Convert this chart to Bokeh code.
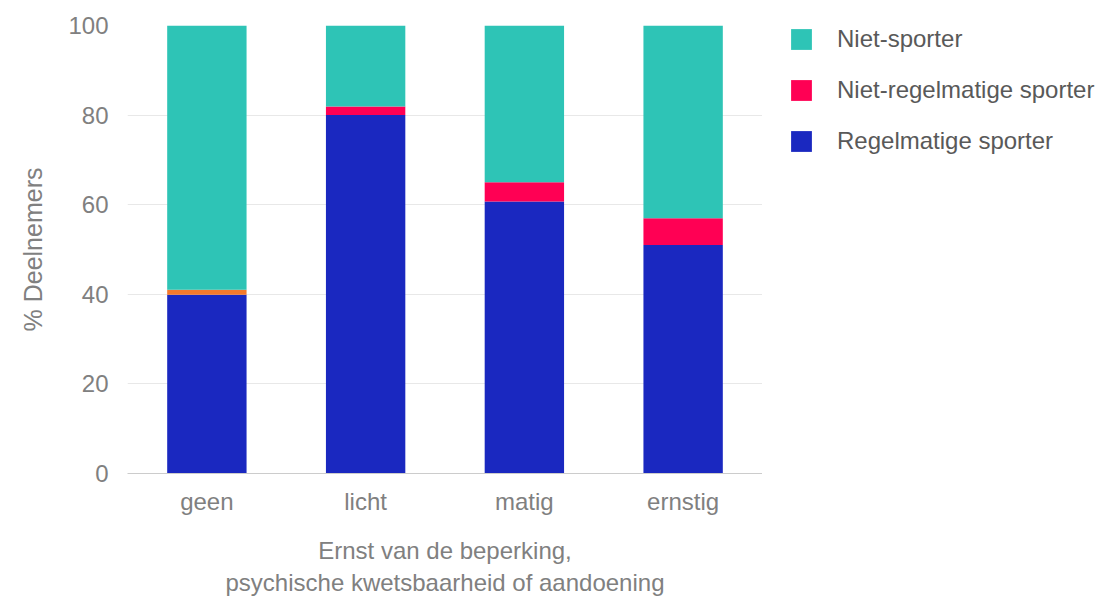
from bokeh.plotting import figure
from bokeh.models import ColumnDataSource, FactorRange, Range1d, Legend, LegendItem, FixedTicker
from bokeh.layouts import row
from bokeh.embed import file_html
from bokeh.resources import INLINE

categories = ["geen", "licht", "matig", "ernstig"]
regelmatig = [39.9, 80.0, 60.7, 51.0]
niet_regelmatig = [1.1, 1.9, 4.3, 6.0]
niet_sporter = [59.0, 18.1, 35.0, 43.0]
y_ticks = [0, 20, 40, 60, 80, 100]
series_labels = ["Niet-sporter", "Niet-regelmatige sporter", "Regelmatige sporter"]

TEAL = "#2EC4B6"
PINK = "#FF0054"
BLUE = "#1A28C0"
ORANGE = "#F4792B"
mid_colors = [ORANGE, PINK, PINK, PINK]

b1 = [0.0] * len(categories)
t1 = [b + v for b, v in zip(b1, regelmatig)]
t2 = [b + v for b, v in zip(t1, niet_regelmatig)]
t3 = [b + v for b, v in zip(t2, niet_sporter)]

src = ColumnDataSource(dict(cat=categories, b1=b1, t1=t1, t2=t2, t3=t3, mc=mid_colors))

FONT = "Liberation Sans"
GRAY = "#808080"

p = figure(width=762, height=598, x_range=FactorRange(*categories, range_padding=0),
           y_range=Range1d(0, 100), output_backend="svg", toolbar_location=None,
           min_border_left=127, min_border_right=0, min_border_top=25, min_border_bottom=123)
p.outline_line_color = None

p.vbar(x="cat", bottom="b1", top="t1", width=0.5, source=src, fill_color=BLUE, line_color=None)
p.vbar(x="cat", bottom="t1", top="t2", width=0.5, source=src, fill_color="mc", line_color=None)
p.vbar(x="cat", bottom="t2", top="t3", width=0.5, source=src, fill_color=TEAL, line_color=None)

p.xgrid.grid_line_color = None
p.ygrid.grid_line_color = "#e8e8e8"
p.ygrid.ticker = FixedTicker(ticks=y_ticks)

p.yaxis.ticker = FixedTicker(ticks=y_ticks)
p.yaxis.axis_line_color = None
p.yaxis.major_tick_line_color = None
p.yaxis.minor_tick_line_color = None
p.yaxis.major_label_standoff = 13
p.yaxis.major_label_text_font = FONT
p.yaxis.major_label_text_font_size = "24px"
p.yaxis.major_label_text_color = GRAY
p.yaxis.axis_label = "% Deelnemers"
p.yaxis.axis_label_text_font = FONT
p.yaxis.axis_label_text_font_size = "25px"
p.yaxis.axis_label_text_font_style = "normal"
p.yaxis.axis_label_text_color = GRAY
p.yaxis.axis_label_standoff = 18

p.xaxis.axis_line_color = "#cccccc"
p.xaxis.major_tick_line_color = None
p.xaxis.minor_tick_line_color = None
p.xaxis.major_label_standoff = 8
p.xaxis.major_label_text_font = FONT
p.xaxis.major_label_text_font_size = "24px"
p.xaxis.major_label_text_color = GRAY
p.xaxis.axis_label = "Ernst van de beperking,\npsychische kwetsbaarheid of aandoening"
p.xaxis.axis_label_text_font = FONT
p.xaxis.axis_label_text_font_size = "24px"
p.xaxis.axis_label_text_font_style = "normal"
p.xaxis.axis_label_text_color = GRAY
p.xaxis.axis_label_standoff = 19

# legend panel
lg = figure(width=337, height=598, x_range=Range1d(0, 1), y_range=Range1d(0, 1),
            output_backend="svg", toolbar_location=None,
            min_border_left=26, min_border_right=0, min_border_top=18, min_border_bottom=0)
lg.axis.visible = False
lg.grid.visible = False
lg.outline_line_color = None
lr = [lg.vbar(x=[-5], top=[0], width=0.1, fill_color=c, line_color=None) for c in [TEAL, PINK, BLUE]]

legend = Legend(items=[LegendItem(label=l, renderers=[r]) for l, r in zip(series_labels, lr)],
                location="top_left")
legend.glyph_width = 26
legend.glyph_height = 26
legend.label_height = 26
legend.spacing = 23
legend.label_standoff = 23
legend.label_text_font = FONT
legend.label_text_font_size = "24px"
legend.label_text_color = "#595959"
legend.border_line_color = None
legend.background_fill_alpha = 0
legend.padding = 0
legend.margin = 0
lg.add_layout(legend, "center")

layout = row(p, lg, spacing=0)
open("out.html", "w").write(file_html(layout, INLINE))
